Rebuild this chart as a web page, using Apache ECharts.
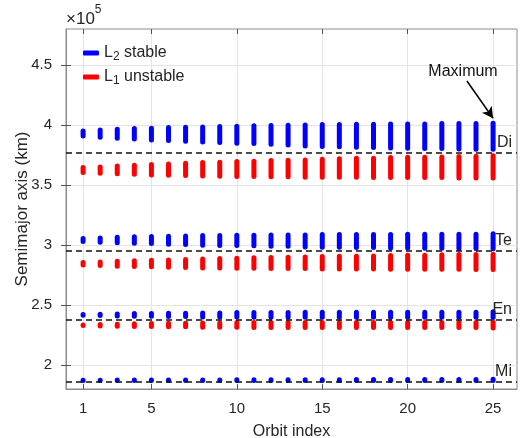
<!DOCTYPE html>
<html><head><meta charset="utf-8">
<script src="https://cdn.jsdelivr.net/npm/echarts@6/dist/echarts.min.js"></script>
<style>html,body{margin:0;padding:0;background:#fff}#c{width:522px;height:438px}</style>
</head><body><div id="c"></div>
<script>
// values in units of 10^5 km
var orbitIndex = [1,2,3,4,5,6,7,8,9,10,11,12,13,14,15,16,17,18,19,20,21,22,23,24,25];
var xTicks = [1,5,10,15,20,25];
var yTicks = [2,2.5,3,3.5,4,4.5];

var moonNames = ['Di','Te','En','Mi'];
var moonA = [3.770,2.947,2.377,1.857];

var diL2Hi = [3.951,3.959,3.965,3.971,3.973,3.979,3.982,3.984,3.987,3.990,3.993,3.996,3.998,4.001,4.004,4.004,4.007,4.007,4.009,4.009,4.009,4.012,4.012,4.012,4.015];
var diL2Lo = [3.909,3.898,3.890,3.884,3.876,3.871,3.865,3.859,3.854,3.848,3.846,3.840,3.834,3.826,3.821,3.818,3.815,3.812,3.809,3.807,3.804,3.804,3.801,3.798,3.798];
var diL1Hi = [3.646,3.651,3.659,3.665,3.671,3.676,3.682,3.687,3.690,3.696,3.698,3.704,3.707,3.709,3.715,3.718,3.723,3.723,3.729,3.732,3.732,3.734,3.737,3.740,3.743];
var diL1Lo = [3.604,3.598,3.593,3.590,3.584,3.582,3.579,3.576,3.573,3.571,3.571,3.568,3.568,3.565,3.565,3.565,3.565,3.562,3.562,3.562,3.562,3.562,3.559,3.559,3.559];

var teL2Hi = [3.054,3.059,3.065,3.068,3.071,3.073,3.076,3.079,3.079,3.082,3.082,3.084,3.084,3.084,3.087,3.087,3.087,3.087,3.087,3.090,3.090,3.090,3.090,3.090,3.093];
var teL2Lo = [3.029,3.023,3.018,3.015,3.012,3.007,3.004,2.998,2.996,2.996,2.993,2.990,2.990,2.984,2.982,2.982,2.979,2.979,2.976,2.976,2.973,2.973,2.971,2.971,2.968];
var teL1Hi = [2.854,2.859,2.865,2.868,2.873,2.876,2.879,2.884,2.887,2.890,2.893,2.896,2.898,2.901,2.904,2.907,2.907,2.909,2.912,2.915,2.915,2.918,2.920,2.920,2.923];
var teL1Lo = [2.834,2.829,2.823,2.821,2.818,2.815,2.812,2.809,2.809,2.807,2.807,2.804,2.804,2.804,2.801,2.801,2.801,2.801,2.798,2.798,2.798,2.798,2.798,2.796,2.796];

var enL2Hi = [2.421,2.423,2.426,2.429,2.429,2.432,2.432,2.434,2.434,2.437,2.437,2.437,2.437,2.440,2.440,2.440,2.440,2.440,2.440,2.440,2.440,2.440,2.440,2.440,2.443];
var enL2Lo = [2.415,2.412,2.409,2.407,2.407,2.404,2.404,2.401,2.401,2.401,2.398,2.398,2.398,2.398,2.398,2.398,2.398,2.398,2.398,2.398,2.398,2.398,2.398,2.398,2.396];
var enL1Hi = [2.334,2.337,2.340,2.343,2.346,2.348,2.348,2.351,2.351,2.354,2.354,2.354,2.354,2.354,2.354,2.354,2.354,2.354,2.354,2.354,2.354,2.354,2.354,2.354,2.357];
var enL1Lo = [2.329,2.326,2.323,2.321,2.321,2.318,2.318,2.315,2.315,2.315,2.312,2.312,2.312,2.312,2.312,2.312,2.312,2.312,2.312,2.312,2.312,2.312,2.312,2.312,2.309];

var miL2Hi = [1.873,1.873,1.874,1.874,1.875,1.875,1.876,1.876,1.876,1.877,1.877,1.877,1.878,1.878,1.878,1.878,1.879,1.879,1.879,1.879,1.880,1.880,1.880,1.880,1.881];
var miL2Lo = [1.870,1.870,1.870,1.870,1.870,1.870,1.870,1.870,1.870,1.870,1.870,1.870,1.870,1.870,1.870,1.870,1.870,1.870,1.870,1.870,1.870,1.870,1.870,1.870,1.870];

var maxArrowFrom = [23.47, 4.367];
var maxArrowTo = [25, 4.056];
var maxLabelAt = [23.24, 4.442];

function segs(pairs) {
  var out = [];
  pairs.forEach(function (p) {
    for (var i = 0; i < orbitIndex.length; i++) out.push([orbitIndex[i], p[0][i], p[1][i]]);
  });
  return out;
}
var l2Data = segs([[diL2Lo, diL2Hi],[teL2Lo, teL2Hi],[enL2Lo, enL2Hi],[miL2Lo, miL2Hi]]);
var l1Data = segs([[diL1Lo, diL1Hi],[teL1Lo, teL1Hi],[enL1Lo, enL1Hi]]);

var FONT = 'Liberation Sans, Arial, Helvetica, sans-serif';
var TXT = '#262626';
var AX = '#8c8c8c';

function segRender(color) {
  return function (params, api) {
    var a = api.coord([api.value(0), api.value(1)]);
    var b = api.coord([api.value(0), api.value(2)]);
    return {
      type: 'line',
      shape: { x1: a[0], y1: a[1], x2: b[0], y2: b[1] },
      style: { stroke: color, lineWidth: 5, lineCap: 'round' }
    };
  };
}

var legendRich = {
  n: { fontSize: 16, color: TXT, fontFamily: FONT, lineHeight: 20 },
  s: { fontSize: 12, color: TXT, fontFamily: FONT, lineHeight: 12, verticalAlign: 'bottom' }
};
var legendNames = {
  'L2 stable': '{n|L}{s|2}{n| stable}',
  'L1 unstable': '{n|L}{s|1}{n| unstable}'
};

var chart = echarts.init(document.getElementById('c'), null, { renderer: 'canvas' });
chart.setOption({
  animation: false,
  backgroundColor: '#fff',
  textStyle: { fontFamily: FONT },
  grid: { left: 66, right: 5, top: 29, bottom: 49, containLabel: false, outerBoundsMode: 'none',
    show: true, borderColor: AX, borderWidth: 1, backgroundColor: 'transparent' },
  legend: {
    data: ['L2 stable', 'L1 unstable'],
    orient: 'vertical', left: 78, top: 40, itemGap: 6,
    icon: 'roundRect', itemWidth: 16, itemHeight: 5,
    formatter: function (n) { return legendNames[n]; },
    textStyle: { rich: legendRich, color: TXT }
  },
  xAxis: [{
    type: 'value', min: 0, max: 26.4, position: 'bottom',
    name: 'Orbit index', nameLocation: 'middle', nameGap: 35, nameMoveOverlap: false,
    nameTextStyle: { fontSize: 16, color: TXT, fontFamily: FONT },
    axisLine: { show: true, lineStyle: { color: AX } },
    axisTick: { show: true, inside: true, length: 5, customValues: xTicks, lineStyle: { color: '#555' } },
    axisLabel: { customValues: xTicks, fontSize: 15, color: TXT, margin: 12, fontFamily: FONT },
    splitLine: { show: true, lineStyle: { color: '#e4e4e4' } }
  }, {
    type: 'value', min: 0, max: 26.4, position: 'top',
    axisLine: { show: false },
    axisTick: { show: true, inside: true, length: 5, customValues: xTicks, lineStyle: { color: '#555' } },
    axisLabel: { show: false }, splitLine: { show: false }
  }],
  yAxis: [{
    type: 'value', min: 1.8, max: 4.8, position: 'left',
    name: 'Semimajor axis (km)', nameLocation: 'middle', nameGap: 35, nameMoveOverlap: false,
    nameTextStyle: { fontSize: 17, color: TXT, fontFamily: FONT },
    axisLine: { show: true, lineStyle: { color: AX } },
    axisTick: { show: true, inside: true, length: 5, customValues: yTicks, lineStyle: { color: '#555' } },
    axisLabel: { customValues: yTicks, fontSize: 15, color: TXT, margin: 14, fontFamily: FONT,
      formatter: function (v) { return String(+v.toFixed(1)); } },
    splitLine: { show: true, lineStyle: { color: '#e4e4e4' } }
  }, {
    type: 'value', min: 1.8, max: 4.8, position: 'right',
    axisLine: { show: false },
    axisTick: { show: true, inside: true, length: 5, customValues: yTicks, lineStyle: { color: '#555' } },
    axisLabel: { show: false }, splitLine: { show: false }
  }],
  series: [{
    name: 'L2 stable', type: 'custom', z: 3,
    itemStyle: { color: '#0000ff' },
    renderItem: segRender('#0000ff'),
    encode: { x: 0, y: [1, 2] },
    data: l2Data
  }, {
    name: 'L1 unstable', type: 'custom', z: 2,
    itemStyle: { color: '#ff0000' },
    renderItem: segRender('#ff0000'),
    encode: { x: 0, y: [1, 2] },
    data: l1Data
  }, {
    name: 'moons', type: 'line', z: 5, data: [], silent: true,
    markLine: {
      silent: true, symbol: ['none', 'none'], animation: false,
      lineStyle: { color: '#111', type: [6, 4], width: 1.5 },
      label: { show: true, position: 'insideEndTop', fontSize: 16, color: TXT, fontFamily: FONT, distance: [5, 2] },
      data: moonA.map(function (v, i) { return { yAxis: v, name: moonNames[i], label: { formatter: moonNames[i] } }; })
    }
  }, {
    name: 'annot', type: 'line', z: 6, data: [], silent: true,
    markLine: {
      silent: true, animation: false, symbol: ['none', 'arrow'], symbolSize: [9, 11],
      lineStyle: { color: '#000', type: 'solid', width: 1.5 },
      label: { show: false },
      data: [[{ coord: maxArrowFrom }, { coord: maxArrowTo }]]
    },
    markPoint: {
      silent: true, animation: false, symbol: 'circle', symbolSize: 0,
      label: { show: true, position: 'inside', formatter: 'Maximum', fontSize: 16, color: '#111', fontFamily: FONT },
      data: [{ coord: maxLabelAt }]
    }
  }],
  graphic: [{
    type: 'text', left: 66, top: 4,
    style: {
      text: '{a|×10}{b|5}',
      rich: {
        a: { fontSize: 17, fill: TXT, fontFamily: FONT, lineHeight: 24, verticalAlign: 'bottom' },
        b: { fontSize: 12, fill: TXT, fontFamily: FONT, lineHeight: 13, verticalAlign: 'top' }
      }
    }
  }]
});
</script></body></html>
